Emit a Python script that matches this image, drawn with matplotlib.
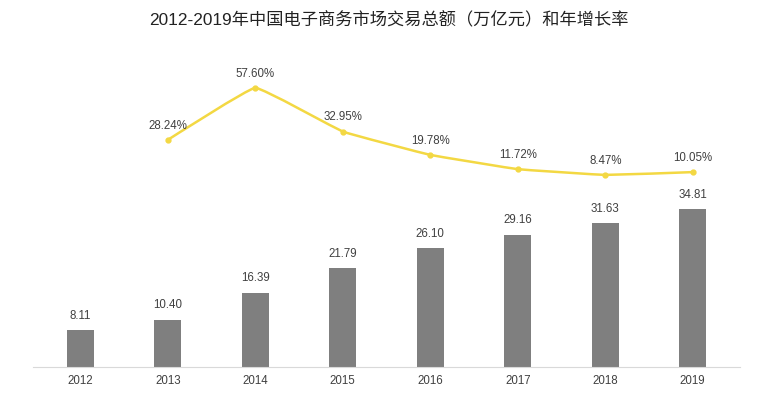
import matplotlib.pyplot as plt
from matplotlib.path import Path
from matplotlib.patches import PathPatch

plt.rcParams['font.family'] = ['Liberation Sans', 'Noto Sans CJK SC', 'DejaVu Sans']

years = ['2012', '2013', '2014', '2015', '2016', '2017', '2018', '2019']
amount = [8.11, 10.40, 16.39, 21.79, 26.10, 29.16, 31.63, 34.81]
growth_years = [1, 2, 3, 4, 5, 6, 7]
growth = [28.24, 57.60, 32.95, 19.78, 11.72, 8.47, 10.05]

bar_color = '#7f7f7f'
line_color = '#f3d843'
text_color = '#404040'


def smooth_path(xs, ys, k=0.04):
    # light bezier smoothing through the points
    verts = [(xs[0], ys[0])]
    codes = [Path.MOVETO]
    n = len(xs)
    for i in range(n - 1):
        x0, y0 = (xs[i - 1], ys[i - 1]) if i > 0 else (xs[i], ys[i])
        x3, y3 = (xs[i + 2], ys[i + 2]) if i + 2 < n else (xs[i + 1], ys[i + 1])
        x1, y1 = xs[i], ys[i]
        x2, y2 = xs[i + 1], ys[i + 1]
        c1 = (x1 + (x2 - x0) * k, y1 + (y2 - y0) * k)
        c2 = (x2 - (x3 - x1) * k, y2 - (y3 - y1) * k)
        verts += [c1, c2, (x2, y2)]
        codes += [Path.CURVE4] * 3
    return Path(verts, codes)


fig = plt.figure(figsize=(7.77, 3.95), dpi=100)
ax = fig.add_axes([33 / 777, 28 / 395, 707 / 777, 317 / 395])
x = list(range(len(years)))
ax.bar(x, amount, width=0.31, color=bar_color, zorder=2)
for xi, v in zip(x, amount):
    ax.annotate(f'{v:.2f}', (xi, v), xytext=(0, 6), textcoords='offset points',
                ha='center', va='bottom', fontsize=8.3, color=text_color)
ax.set_xlim(-0.54, 7.54)
ax.set_ylim(0, 69.8)
ax.set_xticks(x)
ax.set_xticklabels(years, fontsize=8.3, color=text_color)
ax.tick_params(axis='x', length=0, pad=6)
ax.set_yticks([])
for s in ['top', 'right', 'left']:
    ax.spines[s].set_visible(False)
ax.spines['bottom'].set_color('#d9d9d9')

ax2 = ax.twinx()
ax2.set_ylim(-100, 79)
ax2.set_yticks([])
for s in ax2.spines.values():
    s.set_visible(False)
ax2.add_patch(PathPatch(smooth_path(growth_years, growth), fill=False,
                        edgecolor=line_color, lw=1.8, zorder=3))
ax2.plot(growth_years, growth, 'o', color=line_color, ms=3.5, zorder=4)
for xi, v in zip(growth_years, growth):
    ax2.annotate(f'{v:.2f}%', (xi, v), xytext=(0, 6), textcoords='offset points',
                 ha='center', va='bottom', fontsize=8.3, color=text_color)

fig.suptitle('2012-2019年中国电子商务市场交易总额（万亿元）和年增长率',
             x=0.5, y=0.97, fontsize=12.4, color='#222222')

fig.savefig('out.png', dpi=100)
